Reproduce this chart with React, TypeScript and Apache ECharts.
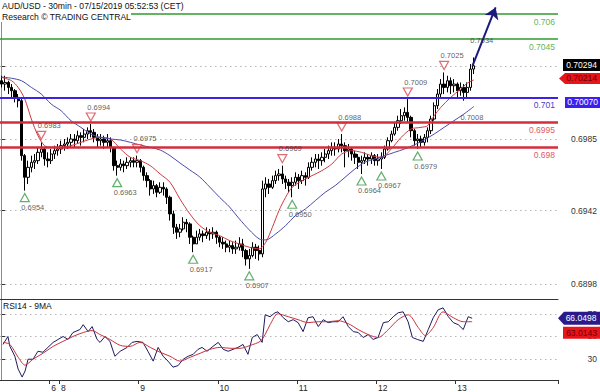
import { useEffect, useRef } from "react";
import * as echarts from "echarts";

// ---------- data ----------
const N_CATS = 169; // 1h slots across the plot (144 used + projection space)
const DAY_LABELS: [number, string][] = [
  [15, "6"], [18, "8"], [42, "9"], [66, "10"], [90, "11"], [114, "12"], [138, "13"],
];
const FIRST_OPEN = 0.702;
const CLOSE = [
  0.7018, 0.7019, 0.7016, 0.7014, 0.7010, 0.7008, 0.6975, 0.6962, 0.6968, 0.6971,
  0.6972, 0.6977, 0.6979, 0.6973, 0.6972, 0.6976, 0.6978, 0.6979, 0.6981, 0.6982,
  0.6983, 0.6985, 0.6984, 0.6987, 0.6986, 0.6988, 0.6990, 0.6989, 0.6986, 0.6984,
  0.6985, 0.6983, 0.6984, 0.6980, 0.6969, 0.6968, 0.6970, 0.6969, 0.6971, 0.6972,
  0.6971, 0.6972, 0.6968, 0.6963, 0.6960, 0.6955, 0.6957, 0.6953, 0.6956, 0.6955,
  0.6950, 0.6940, 0.6932, 0.6929, 0.6931, 0.6935, 0.6934, 0.6926, 0.6922, 0.6926,
  0.6928, 0.6927, 0.6929, 0.6928, 0.6929, 0.6926, 0.6923, 0.6922, 0.6920, 0.6921,
  0.6919, 0.6920, 0.6922, 0.6918, 0.6913, 0.6915, 0.6920, 0.6918, 0.6916, 0.6955,
  0.6958, 0.6956, 0.6960, 0.6963, 0.6964, 0.6961, 0.6959, 0.6957, 0.6959, 0.6962,
  0.6960, 0.6963, 0.6962, 0.6968, 0.6971, 0.6973, 0.6972, 0.6974, 0.6976, 0.6978,
  0.6980, 0.6979, 0.6982, 0.6981, 0.6978, 0.6979, 0.6976, 0.6974, 0.6971, 0.6972,
  0.6974, 0.6973, 0.6975, 0.6972, 0.6973, 0.6974, 0.6979, 0.6984, 0.6988, 0.6992,
  0.6996, 0.6999, 0.7001, 0.6998, 0.6990, 0.6984, 0.6985, 0.6983, 0.6986, 0.6990,
  0.6997, 0.7005, 0.7012, 0.7018, 0.7016, 0.7020, 0.7017, 0.7018, 0.7014, 0.7016,
  0.7013, 0.7016, 0.7027, 0.7029,
];
const HIGH = [
  0.7023, 0.7023, 0.7020, 0.7018, 0.7015, 0.7012, 0.7009, 0.6976, 0.6972, 0.6975,
  0.6976, 0.6980, 0.6983, 0.6980, 0.6977, 0.6979, 0.6981, 0.6982, 0.6984, 0.6985,
  0.6986, 0.6988, 0.6988, 0.6990, 0.6989, 0.6991, 0.6992, 0.6994, 0.6991, 0.6988,
  0.6988, 0.6987, 0.6988, 0.6986, 0.6980, 0.6972, 0.6973, 0.6972, 0.6974, 0.6974,
  0.6974, 0.6975, 0.6973, 0.6969, 0.6965, 0.6961, 0.6960, 0.6958, 0.6959, 0.6959,
  0.6956, 0.6951, 0.6942, 0.6934, 0.6934, 0.6938, 0.6937, 0.6935, 0.6927, 0.6930,
  0.6931, 0.6930, 0.6932, 0.6931, 0.6932, 0.6930, 0.6927, 0.6926, 0.6924, 0.6924,
  0.6923, 0.6924, 0.6926, 0.6925, 0.6919, 0.6919, 0.6923, 0.6922, 0.6921, 0.6960,
  0.6962, 0.6961, 0.6963, 0.6966, 0.6967, 0.6969, 0.6963, 0.6961, 0.6962, 0.6965,
  0.6964, 0.6966, 0.6965, 0.6971, 0.6974, 0.6976, 0.6976, 0.6977, 0.6979, 0.6981,
  0.6983, 0.6983, 0.6985, 0.6988, 0.6983, 0.6982, 0.6980, 0.6978, 0.6976, 0.6975,
  0.6977, 0.6976, 0.6977, 0.6976, 0.6976, 0.6977, 0.6981, 0.6986, 0.6990, 0.6995,
  0.6999, 0.7003, 0.7004, 0.7009, 0.6999, 0.6991, 0.6988, 0.6987, 0.6988, 0.6992,
  0.6999, 0.7007, 0.7015, 0.7021, 0.7025, 0.7023, 0.7022, 0.7021, 0.7019, 0.7019,
  0.7018, 0.7019, 0.7030, 0.7034,
];
const LOW = [
  0.7016, 0.7014, 0.7012, 0.7010, 0.7007, 0.7004, 0.6972, 0.6954, 0.6958, 0.6965,
  0.6967, 0.6970, 0.6974, 0.6969, 0.6968, 0.6970, 0.6973, 0.6975, 0.6976, 0.6978,
  0.6979, 0.6980, 0.6980, 0.6982, 0.6981, 0.6983, 0.6985, 0.6986, 0.6983, 0.6980,
  0.6981, 0.6979, 0.6980, 0.6977, 0.6966, 0.6963, 0.6966, 0.6965, 0.6967, 0.6968,
  0.6968, 0.6968, 0.6965, 0.6960, 0.6956, 0.6951, 0.6952, 0.6950, 0.6952, 0.6951,
  0.6946, 0.6936, 0.6928, 0.6925, 0.6926, 0.6930, 0.6929, 0.6922, 0.6917, 0.6922,
  0.6924, 0.6923, 0.6925, 0.6924, 0.6925, 0.6922, 0.6920, 0.6919, 0.6917, 0.6917,
  0.6916, 0.6916, 0.6918, 0.6914, 0.6909, 0.6907, 0.6914, 0.6913, 0.6912, 0.6914,
  0.6950, 0.6952, 0.6955, 0.6958, 0.6960, 0.6958, 0.6955, 0.6953, 0.6950, 0.6957,
  0.6955, 0.6958, 0.6957, 0.6961, 0.6966, 0.6968, 0.6967, 0.6969, 0.6971, 0.6973,
  0.6975, 0.6975, 0.6977, 0.6977, 0.6968, 0.6974, 0.6972, 0.6970, 0.6967, 0.6964,
  0.6970, 0.6969, 0.6970, 0.6969, 0.6969, 0.6967, 0.6973, 0.6978, 0.6983, 0.6987,
  0.6990, 0.6994, 0.6996, 0.6995, 0.6986, 0.6981, 0.6979, 0.6980, 0.6981, 0.6983,
  0.6988, 0.6996, 0.7003, 0.7010, 0.7012, 0.7013, 0.7012, 0.7013, 0.7010, 0.7011,
  0.7008, 0.7010, 0.7014, 0.7024,
];
const RED_MA: [number, number][] = [
  [0, 0.7022], [3, 0.702], [5, 0.7016], [7, 0.7009], [9, 0.6997], [11, 0.6987], [13, 0.6981],
  [15, 0.698], [18, 0.698], [21, 0.6981], [24, 0.6983], [27, 0.6985], [30, 0.6986], [33, 0.6985],
  [36, 0.6979], [39, 0.6974], [42, 0.6972], [45, 0.6969], [48, 0.6964], [51, 0.6959], [54, 0.6949],
  [57, 0.694], [60, 0.6933], [63, 0.6929], [66, 0.6927], [69, 0.6924], [72, 0.6922], [75, 0.692],
  [78, 0.6919], [80, 0.6923], [82, 0.6932], [84, 0.6942], [86, 0.695], [88, 0.6956], [91, 0.696],
  [94, 0.6963], [97, 0.6966], [100, 0.697], [103, 0.6976], [106, 0.6978], [109, 0.6977],
  [112, 0.6975], [115, 0.6974], [118, 0.6979], [121, 0.6986], [124, 0.6991], [127, 0.6992],
  [129, 0.6993], [131, 0.6999], [133, 0.7004], [136, 0.701], [139, 0.7015], [141, 0.70185],
  [143, 0.70205],
];
const BLUE_MA: [number, number][] = [
  [0, 0.70222], [3, 0.70215], [6, 0.702], [9, 0.7016], [12, 0.7012], [15, 0.7006], [18, 0.7002],
  [21, 0.6996], [24, 0.6992], [27, 0.6988], [30, 0.6986], [33, 0.6985], [36, 0.69844],
  [39, 0.6983], [42, 0.69814], [45, 0.698], [48, 0.69784], [51, 0.6975], [54, 0.69706],
  [57, 0.69664], [60, 0.69622], [63, 0.69562], [66, 0.695], [69, 0.69442], [72, 0.6937],
  [75, 0.69304], [78, 0.6925], [80, 0.69244], [83, 0.6928], [86, 0.6933], [89, 0.6939],
  [92, 0.6943], [95, 0.6948], [98, 0.6953], [101, 0.6957], [104, 0.6962], [107, 0.6967],
  [110, 0.6971], [113, 0.6973], [116, 0.6975], [119, 0.6977], [122, 0.6979], [125, 0.69815],
  [128, 0.69845], [131, 0.6988], [134, 0.6992], [137, 0.6996], [140, 0.7], [143, 0.70045],
];
const RSI: [number, number][] = [
  [0.4, 43.0], [1.9, 50.0], [2.5, 41.3], [4.0, 32.6], [5.0, 21.3], [6.2, 14.3], [7.1, 19.6],
  [8.0, 30.0], [9.5, 30.0], [11.0, 37.0], [12.5, 36.1], [14.0, 40.4], [15.6, 44.8], [17.1, 47.4],
  [18.6, 50.0], [20.1, 47.4], [21.6, 53.5], [23.7, 56.1], [24.7, 60.4], [26.2, 54.3], [27.4, 58.7],
  [28.9, 47.4], [29.8, 44.8], [31.3, 50.0], [32.8, 45.7], [34.3, 32.6], [35.9, 37.0], [38.0, 40.4],
  [39.5, 44.8], [41.0, 45.7], [42.8, 44.8], [44.3, 37.0], [45.9, 28.3], [47.4, 40.4], [48.9, 32.6],
  [50.4, 28.3], [51.9, 23.0], [53.4, 24.3], [55.0, 30.0], [56.5, 32.6], [58.0, 34.3], [59.5, 38.7],
  [60.7, 40.4], [62.2, 37.0], [64.0, 41.3], [65.6, 44.8], [67.1, 38.7], [68.6, 37.0], [70.1, 38.7],
  [71.6, 40.4], [73.1, 43.0], [74.6, 34.3], [75.9, 49.1], [77.4, 51.7], [78.9, 44.8], [79.8, 69.1],
  [81.3, 67.4], [82.8, 70.9], [83.7, 71.7], [85.3, 66.5], [86.8, 63.0], [88.3, 64.8], [89.8, 62.2],
  [91.3, 54.3], [92.8, 66.5], [94.3, 67.4], [95.9, 58.7], [97.4, 64.8], [98.9, 62.2], [100.4, 63.0],
  [101.9, 63.0], [103.4, 67.4], [105.0, 58.7], [106.5, 54.3], [108.0, 53.5], [109.5, 49.1],
  [111.0, 51.7], [112.5, 47.4], [114.0, 49.1], [115.6, 62.2], [117.1, 63.0], [118.6, 67.4],
  [120.1, 70.9], [121.6, 71.7], [123.1, 63.0], [124.4, 49.1], [125.9, 47.4], [127.7, 45.7],
  [129.2, 56.1], [130.7, 66.5], [132.2, 73.5], [133.7, 75.2], [135.3, 67.4], [136.8, 62.2],
  [138.3, 60.4], [139.8, 56.1], [141.3, 67.4], [142.5, 66.05],
];
const RSI_MA: [number, number][] = [
  [0.4, 44.8], [2.5, 43.0], [5.0, 31.7], [7.1, 24.8], [9.5, 30.0], [12.5, 35.2], [15.6, 41.3],
  [18.6, 45.7], [21.6, 50.0], [24.7, 53.5], [27.4, 55.2], [29.8, 51.7], [32.8, 47.4], [35.9, 42.2],
  [38.9, 41.3], [41.9, 44.8], [45.0, 40.4], [48.0, 36.1], [51.0, 32.6], [54.0, 28.3], [57.1, 31.7],
  [60.1, 35.2], [63.1, 38.7], [66.2, 40.4], [69.2, 39.6], [72.2, 39.6], [75.3, 42.2], [78.3, 45.7],
  [79.8, 51.7], [81.3, 60.4], [83.7, 70.0], [86.8, 67.4], [89.8, 64.8], [92.8, 62.2], [95.9, 63.0],
  [98.9, 63.0], [101.9, 63.9], [105.0, 61.3], [108.0, 56.1], [111.0, 51.7], [114.0, 49.1],
  [117.1, 56.1], [120.1, 64.8], [123.1, 69.1], [126.2, 57.8], [128.3, 50.9], [130.7, 57.8],
  [133.7, 71.7], [136.8, 66.5], [139.8, 63.0], [142.5, 63.0],
];
// swing points: [bar index, price, triangle drawn]
const SWING_HIGHS: [number, number, boolean][] = [
  [12, 0.6983, true], [27, 0.6994, true], [41, 0.6975, true], [85, 0.6969, true],
  [103, 0.6988, true], [123, 0.7009, true], [134, 0.7025, true], [143, 0.7034, false],
];
const SWING_LOWS: [number, number, boolean][] = [
  [7, 0.6954, true], [35, 0.6963, true], [58, 0.6917, true], [75, 0.6907, true],
  [88, 0.695, true], [109, 0.6964, true], [115, 0.6967, true], [126, 0.6979, true],
  [140, 0.7008, false],
];
const RESISTANCES = [0.706, 0.7045];
const PIVOTS = [0.701];
const SUPPORTS = [0.6995, 0.698];
const PRICE_TICKS = [0.6898, 0.6942, 0.6985, 0.7029];
const PRICE_LABELS = [0.6898, 0.6942, 0.6985];
const RSI_TICKS = [30, 50, 70];
const LAST_PRICE = 0.70294;
const RED_MA_LAST = 0.70214;
const BLUE_MA_LAST = 0.7007;
const RSI_LAST = 66.0498;
const RSI_MA_LAST = 63.0143;
const TARGET: [number, number][] = [[142.6, 0.7029], [149.6, 0.7064]];
const TITLE = "AUD/USD - 30min - 07/15/2019 05:52:53 (CET)";
const SUBTITLE = "Research \u00a9 TRADING CENTRAL";
const RSI_TITLE = "RSI14 - 9MA";

const FONT = "'Liberation Sans', Arial, sans-serif";

export default function App() {
  const ref = useRef<HTMLDivElement>(null);
  useEffect(() => {
    if (!ref.current) return;
    const chart = echarts.init(ref.current, undefined, { renderer: "svg" });
    const dayMap = new Map(DAY_LABELS);
    const cats = Array.from({ length: N_CATS }, (_, i) => String(i));
    const isDay = (i: number) => dayMap.has(i);
    const candles = CLOSE.map((c, i) => [i === 0 ? FIRST_OPEN : CLOSE[i - 1], c, LOW[i], HIGH[i]]);
    const X_MAX = N_CATS - 0.5;

    const level = (v: number, color: string, width: number, labelColor: string) => ({
      yAxis: v,
      lineStyle: { color, width, type: "solid" },
      label: {
        show: true,
        position: "insideEndBottom",
        formatter: String(v),
        color: labelColor,
        fontSize: 8.5,
        fontFamily: FONT,
        distance: 3,
      },
    });
    const dotted = (vals: number[]) => vals.map((v) => ({ yAxis: v }));

    const tag = (
      v: number,
      text: string,
      bg: string,
      fg: string,
      arrow: boolean,
      w: number,
      h: number,
      dx: number,
      dy: number
    ) => ({
      coord: [X_MAX, v],
      symbol: arrow ? `path://M0,${h / 2}L6,0L${w},0L${w},${h}L6,${h}Z` : "rect",
      symbolSize: [w, h],
      symbolKeepAspect: false,
      symbolOffset: [dx, dy],
      itemStyle: { color: bg },
      label: {
        show: true,
        position: "inside",
        formatter: text,
        color: fg,
        fontSize: 8.5,
        fontFamily: FONT,
        offset: [arrow ? 2 : 0, 0],
      },
    });

    const option: any = {
      animation: false,
      backgroundColor: "#ffffff",
      textStyle: { fontFamily: FONT },
      grid: [
        { left: 0, right: 42, top: 0, height: 299 },
        { left: 0, right: 42, top: 299, height: 82 },
      ],
      xAxis: [
        {
          type: "category",
          gridIndex: 0,
          data: cats,
          boundaryGap: true,
          axisLine: { show: true, lineStyle: { color: "#333", width: 1 } },
          axisTick: { show: false },
          axisLabel: { show: false },
          splitLine: { show: false },
        },
        { type: "value", gridIndex: 0, min: -0.5, max: X_MAX, show: false },
        {
          type: "category",
          gridIndex: 1,
          data: cats,
          boundaryGap: true,
          axisLine: { show: true, lineStyle: { color: "#333", width: 1 } },
          axisTick: {
            show: true,
            interval: (i: number) => isDay(i),
            length: 4,
            lineStyle: { color: "#333" },
          },
          axisLabel: {
            show: true,
            interval: (i: number) => isDay(i),
            formatter: (_v: string, i: number) => dayMap.get(i) ?? "",
            align: "left",
            fontSize: 8.5,
            color: "#222",
            margin: 3,
            fontFamily: FONT,
          },
          splitLine: { show: false },
        },
        { type: "value", gridIndex: 1, min: -0.5, max: X_MAX, show: false },
      ],
      yAxis: [
        {
          type: "value",
          gridIndex: 0,
          position: "right",
          min: 0.68889,
          max: 0.70685,
          axisLine: { show: true, lineStyle: { color: "#8a8a8a" } },
          axisTick: { show: true, length: 4, customValues: PRICE_TICKS, lineStyle: { color: "#333" } },
          axisLabel: {
            show: true,
            customValues: PRICE_LABELS,
            formatter: (v: number) => v.toFixed(4),
            fontSize: 8.5,
            color: "#333",
            align: "right",
            margin: 39,
            fontFamily: FONT,
          },
          splitLine: { show: false },
        },
        {
          type: "value",
          gridIndex: 1,
          position: "right",
          min: 11.7,
          max: 83,
          axisLine: { show: true, lineStyle: { color: "#8a8a8a" } },
          axisTick: { show: true, length: 4, customValues: RSI_TICKS, lineStyle: { color: "#333" } },
          axisLabel: {
            show: true,
            customValues: RSI_TICKS,
            formatter: (v: number) => String(v),
            fontSize: 8.5,
            color: "#333",
            align: "right",
            margin: 39,
            fontFamily: FONT,
          },
          splitLine: { show: false },
        },
      ],
      series: [
        {
          name: "AUD/USD",
          type: "candlestick",
          xAxisIndex: 0,
          yAxisIndex: 0,
          data: candles,
          barWidth: 2.8,
          z: 2,
          itemStyle: {
            color: "#ffffff",
            color0: "#000000",
            borderColor: "#000000",
            borderColor0: "#000000",
            borderWidth: 1,
          },
        },
        {
          name: "MA fast",
          type: "line",
          xAxisIndex: 1,
          yAxisIndex: 0,
          data: RED_MA,
          showSymbol: false,
          smooth: 0.3,
          z: 3,
          lineStyle: { color: "#cc3b3b", width: 1 },
          clip: false,
          markLine: {
            silent: true,
            symbol: "none",
            precision: 6,
            z: 1,
            label: { show: false },
            lineStyle: { color: "#b5b5b5", type: [1.5, 3.5], width: 1 },
            data: dotted(PRICE_TICKS),
          },
          markPoint: {
            silent: true,
            z: 10,
            data: [
              tag(LAST_PRICE, LAST_PRICE.toFixed(5), "#000000", "#ffffff", false, 37, 12, 23.5, 0),
              tag(RED_MA_LAST, RED_MA_LAST.toFixed(5), "#e8141b", "#6a0000", true, 41, 11, 21.5, 0),
              tag(BLUE_MA_LAST, BLUE_MA_LAST.toFixed(5), "#3d1ef0", "#ffffff", false, 35, 11, 24.5, 0),
            ],
          },
        },
        {
          name: "MA slow",
          type: "line",
          xAxisIndex: 1,
          yAxisIndex: 0,
          data: BLUE_MA,
          showSymbol: false,
          smooth: 0.3,
          z: 3,
          lineStyle: { color: "#4a4aa8", width: 1 },
          markLine: {
            silent: true,
            symbol: ["none", "arrow"],
            symbolSize: 11,
            precision: 6,
            z: 6,
            label: { show: false },
            lineStyle: { color: "#1c1a7c", width: 2, type: "solid" },
            data: [[{ coord: TARGET[0] }, { coord: TARGET[1] }]],
          },
        },
        {
          name: "highs",
          type: "scatter",
          xAxisIndex: 1,
          yAxisIndex: 0,
          z: 4,
          clip: false,
          symbol: "path://M0,0L10,0L5,9Z",
          symbolSize: [9, 8],
          symbolOffset: [0, -7],
          itemStyle: { color: "#ffffff", borderColor: "#d9474f", borderWidth: 1.2 },
          data: SWING_HIGHS.filter((d) => d[2]).map((d) => [d[0], d[1]]),
          markLine: {
            silent: true,
            symbol: "none",
            precision: 6,
            z: 5,
            data: [
              ...RESISTANCES.map((v) => level(v, "#2f9a2f", 1.5, "#62b562")),
              ...PIVOTS.map((v) => level(v, "#3a22e6", 1.8, "#4a3dc8")),
              ...SUPPORTS.map((v) => level(v, "#d42c3c", 2.5, "#de5b66")),
            ],
          },
        },
        {
          name: "lows",
          type: "scatter",
          xAxisIndex: 1,
          yAxisIndex: 0,
          z: 4,
          clip: false,
          symbol: "path://M5,0L10,9L0,9Z",
          symbolSize: [9, 8],
          symbolOffset: [0, 7],
          itemStyle: { color: "#ffffff", borderColor: "#3d9a4c", borderWidth: 1.2 },
          data: SWING_LOWS.filter((d) => d[2]).map((d) => [d[0], d[1]]),
        },
        {
          name: "high labels",
          type: "scatter",
          xAxisIndex: 1,
          yAxisIndex: 0,
          z: 7,
          clip: false,
          symbol: "circle",
          symbolSize: 1,
          itemStyle: { color: "rgba(0,0,0,0)" },
          label: {
            show: true,
            position: "inside",
            offset: [8, -17],
            formatter: (p: any) => Number(p.value[1]).toFixed(4),
            color: "#333",
            fontSize: 7.5,
            fontFamily: FONT,
          },
          data: SWING_HIGHS.map((d) => [d[0], d[1]]),
        },
        {
          name: "low labels",
          type: "scatter",
          xAxisIndex: 1,
          yAxisIndex: 0,
          z: 7,
          clip: false,
          symbol: "circle",
          symbolSize: 1,
          itemStyle: { color: "rgba(0,0,0,0)" },
          label: {
            show: true,
            position: "inside",
            offset: [8, 17],
            formatter: (p: any) => Number(p.value[1]).toFixed(4),
            color: "#333",
            fontSize: 7.5,
            fontFamily: FONT,
          },
          data: SWING_LOWS.map((d) => [d[0], d[1]]),
        },
        {
          name: "RSI14",
          type: "line",
          xAxisIndex: 3,
          yAxisIndex: 1,
          data: RSI,
          showSymbol: false,
          z: 3,
          clip: false,
          lineStyle: { color: "#1d1b5e", width: 1 },
          markLine: {
            silent: true,
            symbol: "none",
            precision: 6,
            z: 1,
            label: { show: false },
            lineStyle: { color: "#b5b5b5", type: [1.5, 3.5], width: 1 },
            data: dotted(RSI_TICKS),
          },
          markPoint: {
            silent: true,
            z: 10,
            data: [
              tag(RSI_LAST, RSI_LAST.toFixed(4), "#2b1a8a", "#ffffff", true, 42, 13, 21, 0),
              tag(RSI_MA_LAST, RSI_MA_LAST.toFixed(4), "#e8141b", "#6a0000", false, 37, 12, 23.5, 11),
            ],
          },
        },
        {
          name: "RSI 9MA",
          type: "line",
          xAxisIndex: 3,
          yAxisIndex: 1,
          data: RSI_MA,
          showSymbol: false,
          smooth: 0.3,
          z: 3,
          lineStyle: { color: "#c8323c", width: 1 },
        },
      ],
      graphic: [
        {
          type: "rect",
          z: 100,
          shape: { x: 0, y: 0, width: 131, height: 22 },
          style: { fill: "#ffffff" },
        },
        {
          type: "text",
          z: 101,
          x: 2,
          y: 1,
          style: { text: TITLE, fontSize: 8.6, fill: "#111", fontFamily: FONT },
        },
        {
          type: "text",
          z: 101,
          x: 2,
          y: 12,
          style: { text: SUBTITLE, fontSize: 8.6, fill: "#111", fontFamily: FONT },
        },
        {
          type: "text",
          z: 101,
          x: 3,
          y: 301,
          style: { text: RSI_TITLE, fontSize: 8.5, fill: "#111", fontFamily: FONT },
        },
      ],
    };
    chart.setOption(option);
    return () => chart.dispose();
  }, []);
  return (
    <div
      ref={ref}
      style={{ position: "absolute", left: 0, top: 0, width: 600, height: 392 }}
    />
  );
}
